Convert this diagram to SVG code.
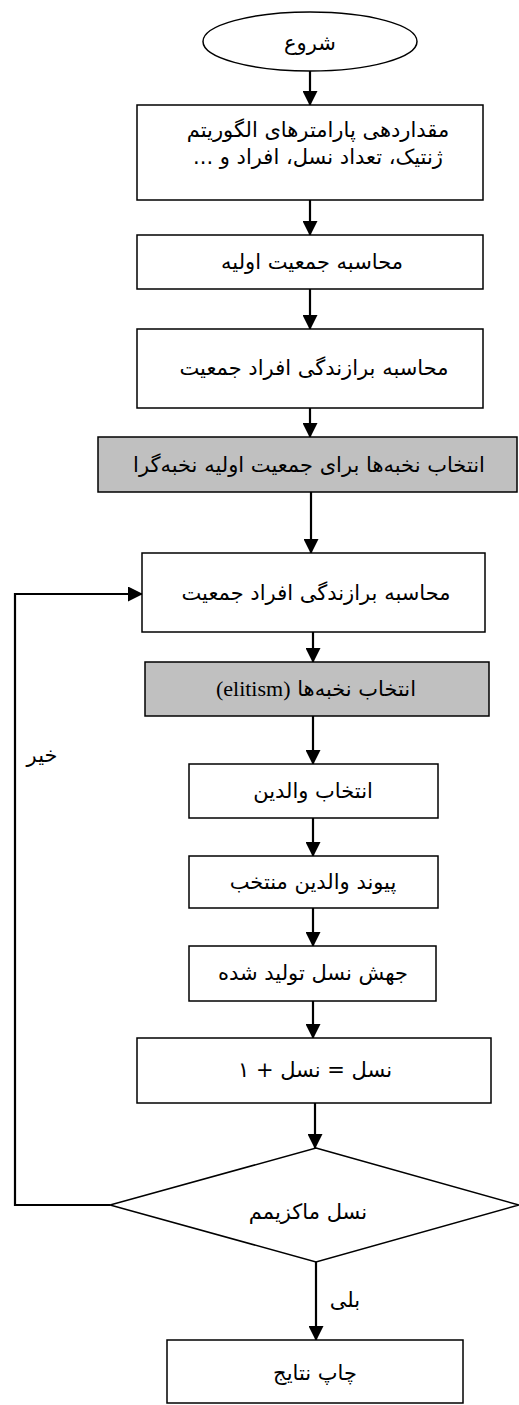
<svg xmlns="http://www.w3.org/2000/svg" width="519" height="1405" viewBox="0 0 519 1405">
<style>
.box{fill:#ffffff;stroke:#000;stroke-width:1.5}
.gray{fill:#c0c0c0;stroke:#000;stroke-width:1.5}
.t{font-family:"DejaVu Sans",sans-serif;font-size:21px;fill:#000;text-anchor:middle;direction:rtl}
.en{font-family:"Liberation Serif",serif;font-size:22px}
.c{fill:none;stroke:#000;stroke-width:2.2}
</style>
<defs>
<marker id="ah" markerWidth="15" markerHeight="15" refX="14" refY="7.5" orient="auto" markerUnits="userSpaceOnUse">
<path d="M0,0 L15,7.5 L0,15 Z" fill="#000"/>
</marker>
</defs>
<rect width="519" height="1405" fill="#fff"/>
<g id="connectors">
<line class="c" x1="310" y1="71" x2="310" y2="105" marker-end="url(#ah)"/>
<line class="c" x1="310" y1="200" x2="310" y2="235" marker-end="url(#ah)"/>
<line class="c" x1="310" y1="289" x2="310" y2="329" marker-end="url(#ah)"/>
<line class="c" x1="310" y1="408" x2="310" y2="437" marker-end="url(#ah)"/>
<line class="c" x1="311" y1="492" x2="311" y2="553" marker-end="url(#ah)"/>
<line class="c" x1="313" y1="632" x2="313" y2="662" marker-end="url(#ah)"/>
<line class="c" x1="313" y1="716" x2="313" y2="764" marker-end="url(#ah)"/>
<line class="c" x1="313" y1="818" x2="313" y2="856" marker-end="url(#ah)"/>
<line class="c" x1="313" y1="908" x2="313" y2="946" marker-end="url(#ah)"/>
<line class="c" x1="313" y1="1001" x2="313" y2="1038" marker-end="url(#ah)"/>
<line class="c" x1="315" y1="1103" x2="315" y2="1148" marker-end="url(#ah)"/>
<line class="c" x1="316" y1="1262" x2="316" y2="1340" marker-end="url(#ah)"/>
<polyline class="c" points="110,1205 15,1205 15,594 142,594" marker-end="url(#ah)"/>
<text class="t" x="42" y="762">خیر</text>
<text class="t" x="345" y="1307">بلی</text>
</g>
<g id="start">
<ellipse cx="310" cy="41.5" rx="107" ry="29.5" class="box"/>
<text class="t" x="310" y="50">شروع</text>
</g>
<g id="init">
<rect x="137" y="105" width="346" height="95" class="box"/>
<text class="t" x="318" y="137">مقداردهی پارامترهای الگوریتم</text>
<text class="t" x="318" y="164">ژنتیک، تعداد نسل، افراد و ...</text>
</g>
<g id="initpop">
<rect x="137" y="235" width="346" height="54" class="box"/>
<text class="t" x="312" y="269">محاسبه جمعیت اولیه</text>
</g>
<g id="fitness1">
<rect x="137" y="329" width="346" height="79" class="box"/>
<text class="t" x="314" y="375">محاسبه برازندگی افراد جمعیت</text>
</g>
<g id="elite-init">
<rect x="98" y="437" width="419" height="55" class="gray"/>
<text class="t" x="309" y="472">انتخاب نخبه‌ها برای جمعیت اولیه نخبه‌گرا</text>
</g>
<g id="fitness2">
<rect x="142" y="553" width="343" height="79" class="box"/>
<text class="t" x="316" y="600">محاسبه برازندگی افراد جمعیت</text>
</g>
<g id="elitism">
<rect x="145" y="662" width="344" height="54" class="gray"/>
<text class="t" x="316" y="696">انتخاب نخبه‌ها <tspan class="en">(elitism)</tspan></text>
</g>
<g id="parents">
<rect x="189" y="764" width="249" height="54" class="box"/>
<text class="t" x="313" y="798">انتخاب والدین</text>
</g>
<g id="crossover">
<rect x="189" y="856" width="249" height="52" class="box"/>
<text class="t" x="313" y="889">پیوند والدین منتخب</text>
</g>
<g id="mutation">
<rect x="189" y="946" width="247" height="55" class="box"/>
<text class="t" x="313" y="980">جهش نسل تولید شده</text>
</g>
<g id="increment">
<rect x="137" y="1038" width="354" height="65" class="box"/>
<text class="t" x="315" y="1077">نسل = نسل + ۱</text>
</g>
<g id="decision">
<polygon points="316,1148 519,1205 316,1262 110,1205" class="box"/>
<text class="t" x="308" y="1219">نسل ماکزیمم</text>
</g>
<g id="print">
<rect x="167" y="1340" width="296" height="63" class="box"/>
<text class="t" x="315" y="1380">چاپ نتایج</text>
</g>
</svg>
